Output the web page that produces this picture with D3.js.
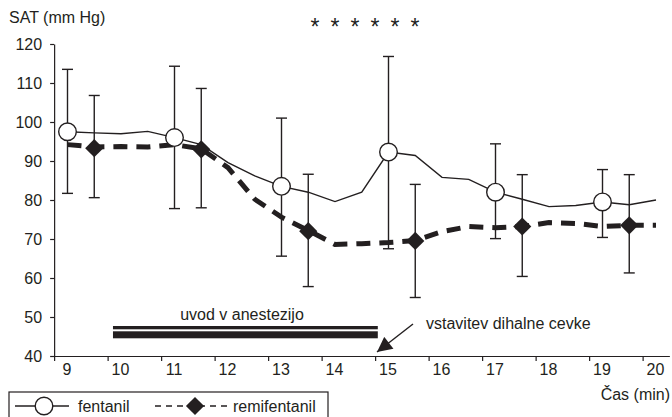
<!DOCTYPE html>
<html>
<head>
<meta charset="utf-8">
<script src="https://cdn.jsdelivr.net/npm/d3@7"></script>
<style>
  html, body { margin: 0; padding: 0; background: #fff; }
  text { font-family: "Liberation Sans", Arial, sans-serif; fill: #231f20; }
</style>
</head>
<body>
<div id="chart"></div>
<script>
// Podatki
const lineTimes = [9, 9.5, 10, 10.5, 11, 11.5, 12, 12.5, 13, 13.5, 14, 14.5, 15, 15.5, 16, 16.5, 17, 17.5, 18, 18.5, 19, 19.5, 20];
const fentanilLine = [97.5, 97.2, 97, 97.6, 96, 94.2, 89.6, 86.2, 83.5, 82, 79.6, 82, 92.3, 91.4, 85.8, 85.3, 82, 80.2, 78.3, 78.6, 79.5, 78.8, 80];
const remiLine = [94.2, 93.6, 93.7, 93.6, 94.2, 93.1, 88.3, 80.2, 75.6, 72.2, 68.6, 68.8, 69.1, 69.6, 71.9, 73.2, 72.9, 73.2, 74.2, 74, 73.2, 73.5, 73.5];

const fentanilTimes = [9, 11, 13, 15, 17, 19];
const fentanilMean = [97.5, 96, 83.5, 92.3, 82, 79.5];
const fentanilUpper = [113.5, 114.3, 101, 116.8, 94.4, 87.8];
const fentanilLower = [81.7, 77.8, 65.6, 67.5, 70.1, 70.4];

const remiTimes = [9.5, 11.5, 13.5, 15.5, 17.5, 19.5];
const remiMean = [93.3, 93, 72, 69.5, 73.2, 73.5];
const remiUpper = [106.8, 108.6, 86.6, 84, 86.5, 86.5];
const remiLower = [80.6, 78, 57.8, 55, 60.4, 61.3];

const xTicks = [9, 10, 11, 12, 13, 14, 15, 16, 17, 18, 19, 20];
const yTicks = [40, 50, 60, 70, 80, 90, 100, 110, 120];
const stars = [1, 2, 3, 4, 5, 6];
const induction = [9.85, 14.8];

const width = 672, height = 417;
const ink = '#231f20';
const font = '"Liberation Sans", Arial, sans-serif';

const svg = d3.select('#chart').append('svg')
  .attr('width', width).attr('height', height);

const x = d3.scaleLinear().domain([9, 20]).range([67.5, 656]);
const y = d3.scaleLinear().domain([40, 120]).range([356, 44]);
// kljukice so zamaknjene za četrt minute levo od oznak
const xTick = d3.scaleLinear().domain([9, 20.5]).range([x(8.75), x(20.25)]);

// os x
const gx = svg.append('g').attr('transform', `translate(0,${y(40)})`)
  .call(d3.axisBottom(xTick).tickValues(xTicks).tickSize(5).tickSizeOuter(0));
gx.select('.domain').attr('stroke', ink).attr('stroke-width', 1.2);
gx.selectAll('.tick line').attr('stroke', ink).attr('stroke-width', 1.2);
gx.selectAll('.tick text')
  .attr('x', x(9) - xTick(9) - 1).attr('y', 8).attr('fill', ink)
  .style('font-size', '16px').style('font-family', font);

// os y
const gy = svg.append('g').attr('transform', `translate(${xTick(9)},0)`)
  .call(d3.axisLeft(y).tickValues(yTicks).tickSize(4).tickSizeOuter(0));
gy.select('.domain').attr('stroke', ink).attr('stroke-width', 1.2);
gy.selectAll('.tick line').attr('stroke', ink).attr('stroke-width', 1.2);
gy.selectAll('.tick text').attr('x', -12).attr('fill', ink)
  .style('font-size', '16px').style('font-family', font);

svg.append('text').attr('x', 9).attr('y', 23).style('font-size', '16px').text('SAT (mm Hg)');
svg.append('text').attr('x', 670).attr('y', 400).attr('text-anchor', 'end')
  .style('font-size', '16px').text('Čas (min)');

// zvezdice
svg.append('g').selectAll('text').data(stars).enter().append('text')
  .attr('x', d => 315 + (d - 1) * 20).attr('y', 35)
  .attr('text-anchor', 'middle').style('font-size', '23px').text('*');

// uvod v anestezijo
svg.append('rect').attr('x', x(induction[0])).attr('y', 326)
  .attr('width', x(induction[1]) - x(induction[0])).attr('height', 3.3).attr('fill', ink);
svg.append('rect').attr('x', x(induction[0])).attr('y', 331.3)
  .attr('width', x(induction[1]) - x(induction[0])).attr('height', 7).attr('fill', ink);
svg.append('text').attr('x', 242).attr('y', 320).attr('text-anchor', 'middle')
  .style('font-size', '16px').text('uvod v anestezijo');

// puščica
svg.append('defs').append('marker').attr('id', 'arrow')
  .attr('viewBox', '0 0 10 10').attr('refX', 10).attr('refY', 5)
  .attr('markerWidth', 17).attr('markerHeight', 15).attr('markerUnits', 'userSpaceOnUse')
  .attr('orient', 'auto')
  .append('path').attr('d', 'M0,0L10,5L0,10Z').attr('fill', ink);
svg.append('line').attr('x1', 413).attr('y1', 324).attr('x2', 377).attr('y2', 352)
  .attr('stroke', ink).attr('stroke-width', 1.4).attr('marker-end', 'url(#arrow)');
svg.append('text').attr('x', 426).attr('y', 329).style('font-size', '16px')
  .text('vstavitev dihalne cevke');

// napake
function errorBars(times, upper, lower) {
  const g = svg.append('g').attr('stroke', ink).attr('stroke-width', 1.4);
  times.forEach((t, i) => {
    g.append('line').attr('x1', x(t)).attr('x2', x(t)).attr('y1', y(upper[i])).attr('y2', y(lower[i]));
    g.append('line').attr('x1', x(t) - 5.5).attr('x2', x(t) + 5.5).attr('y1', y(upper[i])).attr('y2', y(upper[i]));
    g.append('line').attr('x1', x(t) - 5.5).attr('x2', x(t) + 5.5).attr('y1', y(lower[i])).attr('y2', y(lower[i]));
  });
}
errorBars(fentanilTimes, fentanilUpper, fentanilLower);
errorBars(remiTimes, remiUpper, remiLower);

const line = d3.line().x((d, i) => x(lineTimes[i])).y(d => y(d));

svg.append('path').datum(remiLine).attr('d', line)
  .attr('fill', 'none').attr('stroke', ink).attr('stroke-width', 5)
  .attr('stroke-dasharray', '14,9');
svg.append('path').datum(fentanilLine).attr('d', line)
  .attr('fill', 'none').attr('stroke', ink).attr('stroke-width', 1.4);

const diamond = d3.symbol().type(d3.symbolSquare).size(165);

svg.append('g').selectAll('path').data(remiMean).enter().append('path')
  .attr('d', diamond)
  .attr('transform', (d, i) => `translate(${x(remiTimes[i])},${y(d)}) rotate(45)`)
  .attr('fill', ink);

svg.append('g').selectAll('circle').data(fentanilMean).enter().append('circle')
  .attr('cx', (d, i) => x(fentanilTimes[i])).attr('cy', d => y(d)).attr('r', 8.8)
  .attr('fill', '#fff').attr('stroke', ink).attr('stroke-width', 1.4);

// legenda
const lg = svg.append('g');
lg.append('rect').attr('x', 9).attr('y', 392).attr('width', 319).attr('height', 40)
  .attr('fill', 'none').attr('stroke', ink).attr('stroke-width', 1.2);
lg.append('line').attr('x1', 15).attr('x2', 69).attr('y1', 406).attr('y2', 406)
  .attr('stroke', ink).attr('stroke-width', 1.4);
lg.append('circle').attr('cx', 44).attr('cy', 406).attr('r', 8.8)
  .attr('fill', '#fff').attr('stroke', ink).attr('stroke-width', 1.4);
lg.append('text').attr('x', 78).attr('y', 412).style('font-size', '16px').text('fentanil');
lg.append('line').attr('x1', 155).attr('x2', 227).attr('y1', 406).attr('y2', 406)
  .attr('stroke', ink).attr('stroke-width', 1.6).attr('stroke-dasharray', '6,5');
lg.append('path').attr('d', diamond)
  .attr('transform', 'translate(195,406) rotate(45)').attr('fill', ink);
lg.append('text').attr('x', 233).attr('y', 412).style('font-size', '16px').text('remifentanil');
</script>
</body>
</html>
